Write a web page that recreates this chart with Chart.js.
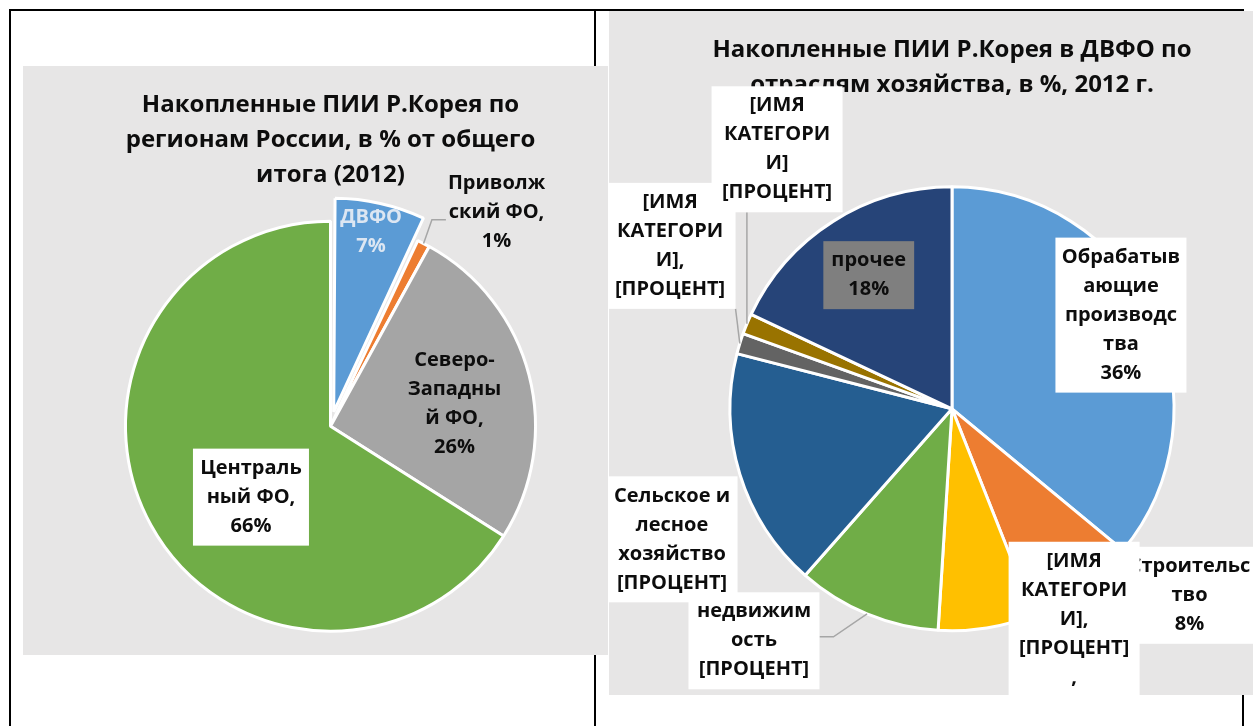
<!DOCTYPE html>
<html>
<head>
<meta charset="utf-8">
<script src="https://cdn.jsdelivr.net/npm/chart.js@4.4.1/dist/chart.umd.min.js"></script>
<style>
body { margin: 0; width: 1253px; height: 726px; background: #fff; position: relative; overflow: hidden; }
.rule { position: absolute; background: #000; }
.panel { position: absolute; background: #E7E6E6; }
</style>
</head>
<body>
<div class="rule" style="left:9px;top:9px;width:1235px;height:2px"></div>
<div class="rule" style="left:9px;top:9px;width:2px;height:717px"></div>
<div class="rule" style="left:594px;top:9px;width:2px;height:717px"></div>
<div class="rule" style="left:1242px;top:9px;width:2px;height:717px"></div>
<div class="panel" style="left:23px;top:66px;width:585px;height:589px"><canvas id="regions-pie"></canvas></div>
<div class="panel" style="left:609px;top:11px;width:644px;height:684px"><canvas id="sectors-pie"></canvas></div>
<script>
const FONT = "'Open Sans', 'DejaVu Sans', sans-serif";

// left chart: by region
const regionNames = ['ДВФО', 'Приволжский ФО', 'Северо-Западный ФО', 'Центральный ФО'];
const regionValues = [7, 1, 26, 66];
const regionColors = ['#5B9BD5', '#ED7D31', '#A5A5A5', '#70AD47'];
const regionLabelLines = [
    ['ДВФО', '{p}'],
    ['Приволж', 'ский ФО,', '{p}'],
    ['Северо-', 'Западны', 'й ФО,', '{p}'],
    ['Централь', 'ный ФО,', '{p}']
];

// right chart: by industry
const sectorNames = ['Обрабатывающие производства', 'Строительство', '[ИМЯ КАТЕГОРИИ]', 'недвижимость',
    'Сельское и лесное хозяйство', '[ИМЯ КАТЕГОРИИ]', '[ИМЯ КАТЕГОРИИ]', 'прочее'];
const sectorValues = [36, 8, 7, 10.5, 17.5, 1.5, 1.5, 18];
const sectorColors = ['#5B9BD5', '#ED7D31', '#FFC000', '#70AD47', '#255E91', '#636363', '#997300', '#264478'];
const sectorLabelLines = [
    ['Обрабатыв', 'ающие', 'производс', 'тва', '{p}'],
    ['Строительс', 'тво', '{p}'],
    ['[ИМЯ', 'КАТЕГОРИ', 'И],', '[ПРОЦЕНТ]', ','],
    ['недвижим', 'ость', '[ПРОЦЕНТ]'],
    ['Сельское и', 'лесное', 'хозяйство', '[ПРОЦЕНТ]'],
    ['[ИМЯ', 'КАТЕГОРИ', 'И],', '[ПРОЦЕНТ]'],
    ['[ИМЯ', 'КАТЕГОРИ', 'И]', '[ПРОЦЕНТ]'],
    ['прочее', '{p}']
];

// draws the data labels, leader lines and label boxes
const sliceLabels = {
    id: 'sliceLabels',
    afterDatasetsDraw(chart, args, opts) {
        const ctx = chart.ctx;
        const arcs = chart.getDatasetMeta(0).data;
        const values = chart.data.datasets[0].data;
        ctx.save();
        ctx.font = `bold ${opts.size}px ${FONT}`;
        ctx.textAlign = 'center';
        ctx.textBaseline = 'middle';
        arcs.forEach((arc, i) => {
            const spec = opts.items[i];
            const lines = opts.text[i].map(l => l.replace('{p}', Math.round(values[i]) + '%'));
            const {x, y, outerRadius: r, startAngle, endAngle} =
                arc.getProps(['x', 'y', 'outerRadius', 'startAngle', 'endAngle'], true);
            const cx = x + spec.rx * r;
            const cy = y + spec.ry * r;
            const textW = Math.max(...lines.map(l => ctx.measureText(l).width));
            const w = spec.w || textW + 16;
            const h = lines.length * opts.lineHeight + 10;
            const left = cx - w / 2, top = cy - h / 2;

            if (spec.leader) {
                const mid = (startAngle + endAngle) / 2;
                const px = x + r * Math.cos(mid), py = y + r * Math.sin(mid);
                ctx.strokeStyle = '#A6A6A6';
                ctx.lineWidth = 1.5;
                ctx.beginPath();
                ctx.moveTo(px, py);
                if (spec.leader.side) {
                    const edgeW = spec.box ? w : textW + 4;
                    const ex = spec.leader.side === 'left' ? cx - edgeW / 2 : cx + edgeW / 2;
                    const dir = spec.leader.side === 'left' ? -1 : 1;
                    const ey = cy + spec.leader.dy;
                    ctx.lineTo(ex + dir * 14, ey);
                    ctx.lineTo(ex, ey);
                } else {
                    ctx.lineTo(Math.min(Math.max(px, left), left + w), Math.min(Math.max(py, top), top + h));
                }
                ctx.stroke();
            }
            if (spec.box) {
                ctx.fillStyle = spec.box;
                ctx.fillRect(left, top, w, h);
            }
            ctx.fillStyle = spec.color || '#0D0D0D';
            lines.forEach((l, k) => ctx.fillText(l, cx, top + 5 + opts.lineHeight * (k + 0.5)));
        });
        ctx.restore();
    }
};

const titleOpts = (text, bottom) => ({
    display: true,
    text: text,
    color: '#0D0D0D',
    fullSize: false,
    font: { family: FONT, size: 24, weight: 'bold', lineHeight: 1.45 },
    padding: { top: 22, bottom: bottom }
});

new Chart(document.getElementById('regions-pie'), {
    type: 'pie',
    data: {
        labels: regionNames,
        datasets: [{
            data: regionValues,
            backgroundColor: regionColors,
            borderColor: '#fff',
            borderWidth: 3,
            // Chart.js scales the offset down for narrow slices, ~59 gives a ~23px pull-out here
            offset: [59, 0, 0, 0],
            clip: false
        }]
    },
    options: {
        responsive: true,
        maintainAspectRatio: false,
        animation: false,
        radius: 205,
        layout: { padding: { left: 30, right: 0, top: 0, bottom: 5 } },
        plugins: {
            legend: { display: false },
            tooltip: { enabled: false },
            title: titleOpts(['Накопленные ПИИ Р.Корея по', 'регионам России, в % от общего', 'итога (2012)'], 10),
            sliceLabels: {
                size: 20,
                lineHeight: 29,
                text: regionLabelLines,
                items: [
                    { rx: 0.198, ry: -0.946, color: '#DCE6F2' },
                    { rx: 0.81, ry: -1.041, leader: { side: 'left', dy: 7 } },
                    { rx: 0.605, ry: -0.107 },
                    { rx: -0.388, ry: 0.346, box: '#fff', w: 116 }
                ]
            }
        }
    },
    plugins: [sliceLabels]
});

new Chart(document.getElementById('sectors-pie'), {
    type: 'pie',
    data: {
        labels: sectorNames,
        datasets: [{
            data: sectorValues,
            backgroundColor: sectorColors,
            borderColor: '#fff',
            borderWidth: 3
        }]
    },
    options: {
        responsive: true,
        maintainAspectRatio: false,
        animation: false,
        radius: 222,
        layout: { padding: { left: 42, right: 0, top: 0, bottom: 0 } },
        plugins: {
            legend: { display: false },
            tooltip: { enabled: false },
            title: titleOpts(['Накопленные ПИИ Р.Корея в ДВФО по', 'отраслям хозяйства, в %, 2012 г.'], 20),
            sliceLabels: {
                size: 20,
                lineHeight: 29,
                text: sectorLabelLines,
                items: [
                    { rx: 0.761, ry: -0.422, box: '#fff', w: 131 },
                    { rx: 1.07, ry: 0.84, box: '#fff', w: 131 },
                    { rx: 0.55, ry: 0.948, box: '#fff', w: 131 },
                    { rx: -0.892, ry: 1.045, box: '#fff', w: 131, leader: { side: 'right', dy: -4 } },
                    { rx: -1.261, ry: 0.588, box: '#fff', w: 131 },
                    { rx: -1.27, ry: -0.734, box: '#fff', w: 131, leader: {} },
                    { rx: -0.788, ry: -1.169, box: '#fff', w: 131, leader: {} },
                    { rx: -0.375, ry: -0.602, box: '#7F7F7F' }
                ]
            }
        }
    },
    plugins: [sliceLabels]
});
</script>
</body>
</html>
